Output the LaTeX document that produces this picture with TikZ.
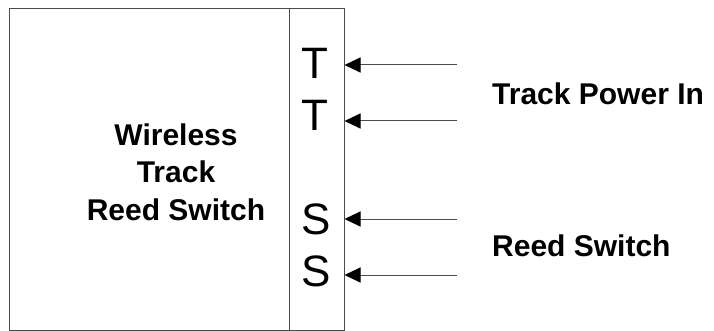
\documentclass[tikz,border=0pt]{standalone}
\usepackage{fontspec}
\setmainfont{Liberation Sans}
\usetikzlibrary{arrows.meta}
\tikzset{>=stealth}
\tikzset{
  boxline/.style={draw=black!70,line width=1pt},
  pinletter/.style={inner sep=0pt,font=\fontsize{44}{44}\selectfont},
  biglabel/.style={inner sep=0pt,font=\fontsize{30}{37.5}\selectfont\bfseries},
  pinarrow/.style={draw=black!70,line width=1pt,-{Triangle[length=16pt,width=15pt,color=black]}}
}

\begin{document}
\begin{tikzpicture}[x=1pt,y=-1pt]
  \useasboundingbox (0,0) rectangle (714,331);

  \node[boxline,inner sep=0pt,minimum width=280pt,minimum height=321pt] (unit) at (149,169.5) {};
  \node[boxline,inner sep=0pt,minimum width=55pt,minimum height=321pt] (pins) at (316.5,169.5) {};

  \node[biglabel,align=center] (name) at (176,172) {Wireless\\Track\\Reed Switch};

  \node[pinletter] (t1) at (315,63) {T};
  \node[pinletter] (t2) at (315,115) {T};
  \node[pinletter] (s1) at (316,219) {S};
  \node[pinletter] (s2) at (316,271) {S};

  \coordinate (in1) at (457,65);
  \coordinate (in2) at (457,121);
  \coordinate (in3) at (457,219);
  \coordinate (in4) at (457,275);

  \draw[pinarrow] (in1) -- (in1 -| pins.east);
  \draw[pinarrow] (in2) -- (in2 -| pins.east);
  \draw[pinarrow] (in3) -- (in3 -| pins.east);
  \draw[pinarrow] (in4) -- (in4 -| pins.east);

  \node[biglabel,anchor=west] (power) at (492,94) {Track Power In};
  \node[biglabel,anchor=west] (reed) at (492,246) {Reed Switch};

\end{tikzpicture}
\end{document}
